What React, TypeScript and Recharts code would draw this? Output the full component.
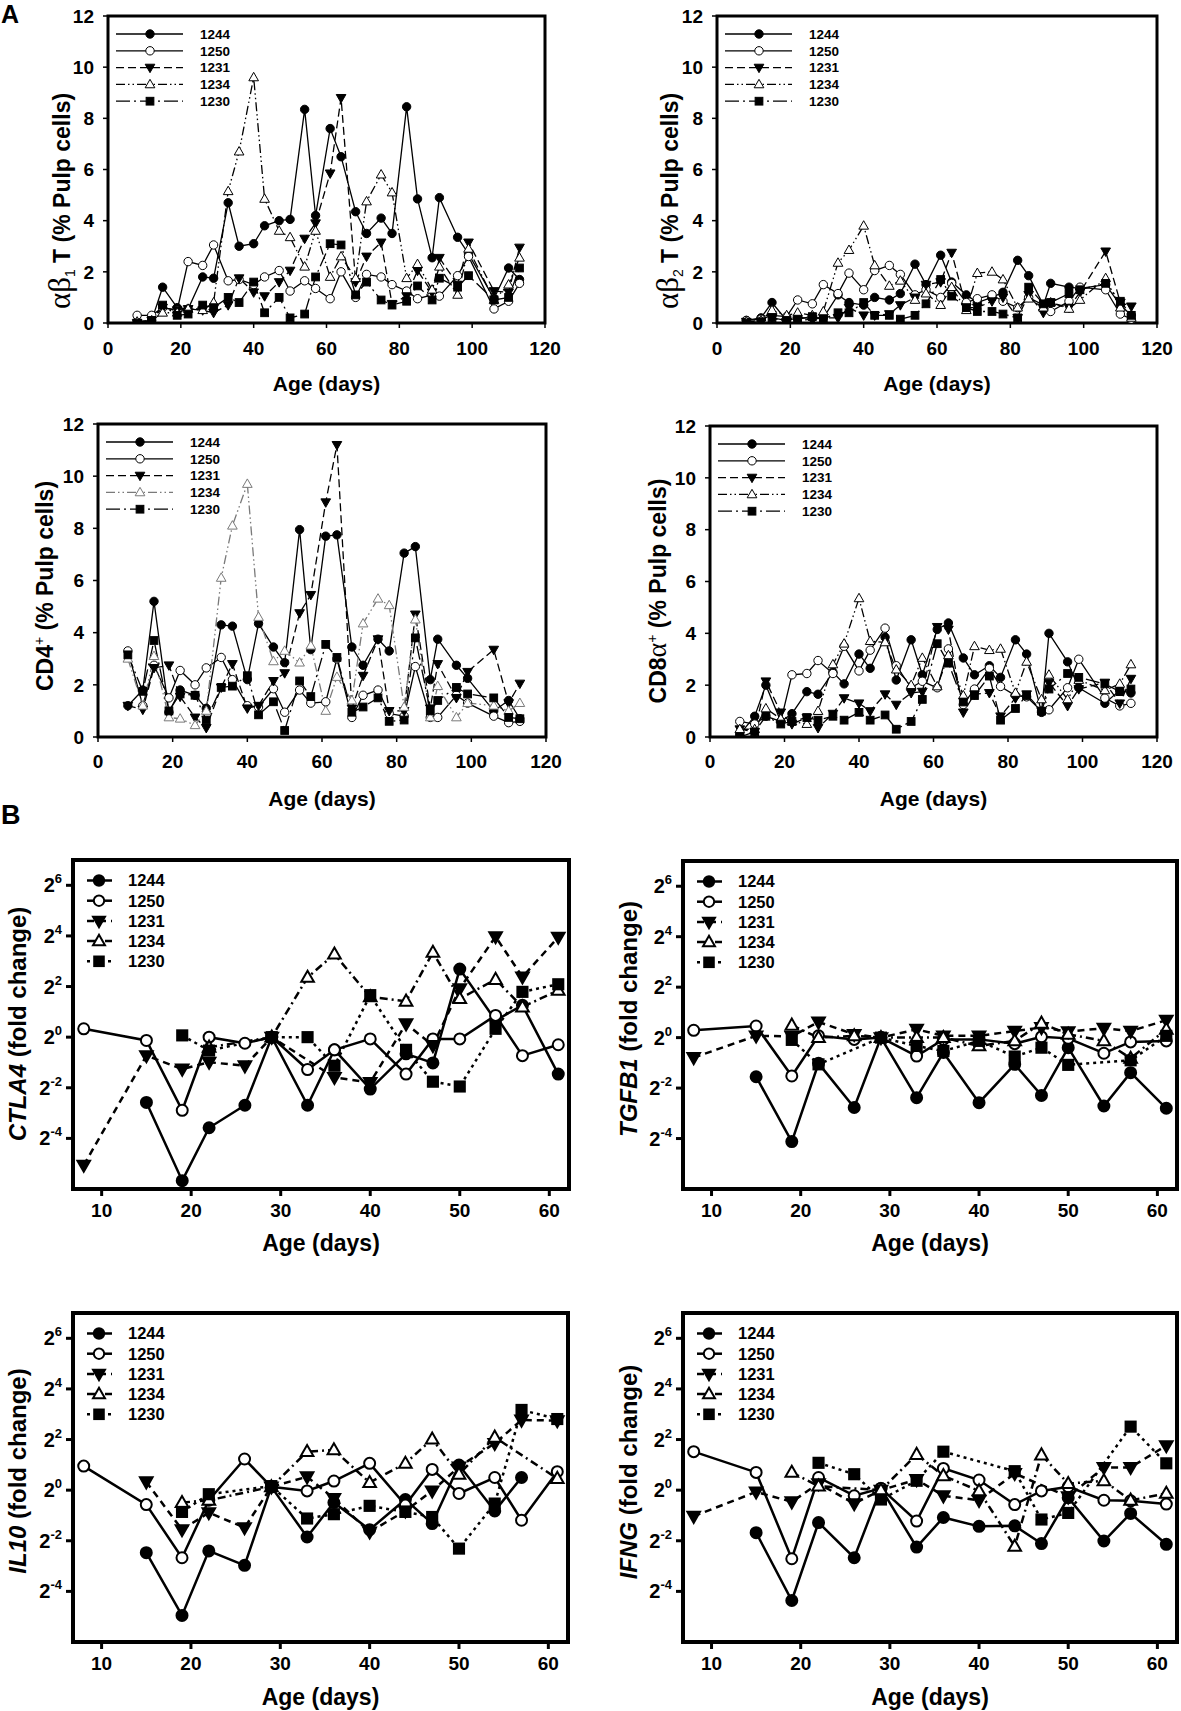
import React from 'react';
import { LineChart, Line, XAxis, YAxis, ReferenceArea, Legend } from 'recharts';

const SANS = '"Liberation Sans", Arial, Helvetica, sans-serif';
const SERIF = '"Liberation Serif", "DejaVu Serif", "Times New Roman", serif';

// ---------- categories ----------
const SERIES_NAMES = ['1244', '1250', '1231', '1234', '1230'];
const A_DAYS = [8, 12, 15, 19, 22, 26, 29, 33, 36, 40, 43, 47, 50, 54, 57, 61, 64, 68, 71, 75, 78, 82, 85, 89, 91, 96, 99, 106, 110, 113];
const B_DAYS = [8, 15, 19, 22, 26, 29, 33, 36, 40, 44, 47, 50, 54, 57, 61];

// ---------- tick labels ----------
const A_X_TICKS = [0, 20, 40, 60, 80, 100, 120];
const A_Y_TICKS = [0, 2, 4, 6, 8, 10, 12];
const B_X_TICKS = [10, 20, 30, 40, 50, 60];
const B_Y_TICKS = [-4, -2, 0, 2, 4, 6]; // exponents of 2

// ---------- A: alpha-beta1 T (% pulp cells) ----------
const ab1_1244 = [0.05, 0.1, 1.4, 0.6, 0.55, 1.8, 1.75, 4.7, 3.0, 3.1, 3.8, 4.0, 4.05, 8.35, 4.2, 7.6, 6.5, 4.35, 3.5, 4.1, 3.5, 8.45, 4.85, 2.55, 4.9, 3.35, 2.7, 0.95, 2.15, 1.7];
const ab1_1250 = [0.3, 0.3, 0.6, 0.5, 2.4, 2.25, 3.05, 1.65, 1.7, 1.5, 1.8, 2.05, 1.25, 1.65, 1.35, 0.95, 2.0, 1.0, 1.9, 1.8, 1.5, 1.25, 0.95, 1.1, 1.05, 1.85, 2.6, 0.55, 0.85, 1.55];
const ab1_1231 = [0, 0.1, 0.6, 0.5, 0.55, 0.5, 0.4, 0.7, 1.75, 1.2, 1.05, 1.6, 2.05, 3.3, 3.9, 5.85, 8.8, 1.6, 2.6, 3.15, 0.75, 1.05, 2.05, 1.2, 2.55, 1.5, 3.15, 1.25, 1.2, 2.95];
const ab1_1234 = [0.05, 0.1, 0.4, 0.4, 0.55, 0.5, 0.8, 5.15, 6.7, 9.6, 4.85, 3.6, 3.35, 2.2, 3.6, 1.8, 2.6, 1.75, 4.75, 5.8, 5.1, 1.75, 2.3, 1.3, 2.2, 1.1, 2.9, 0.9, 1.5, 2.55];
const ab1_1230 = [0, 0.1, 0.7, 0.3, 0.35, 0.7, 0.6, 1.0, 0.8, 1.6, 0.4, 1.0, 0.2, 0.35, 1.8, 3.1, 3.05, 1.1, 1.6, 0.9, 0.7, 0.85, 1.45, 0.9, 1.75, 1.4, 1.85, 0.9, 1.0, 2.15];

// ---------- A: alpha-beta2 T ----------
const ab2_1244 = [0.1, 0.2, 0.8, 0.1, 0.2, 0.2, 0.2, 1.1, 0.8, 0.7, 1.0, 0.9, 1.15, 2.3, 1.5, 2.65, 1.6, 1.1, 0.8, 1.0, 1.2, 2.45, 1.85, 0.7, 1.55, 1.4, 1.35, 1.5, 0.7, 0.3];
const ab2_1250 = [0.1, 0.15, 0.3, 0.25, 0.9, 0.75, 1.5, 1.15, 1.95, 1.3, 2.05, 2.25, 1.9, 1.1, 1.3, 1.0, 1.55, 0.8, 0.95, 1.1, 0.85, 0.6, 1.0, 0.7, 0.45, 0.85, 1.4, 1.3, 0.35, 0.15];
const ab2_1231 = [0.05, 0.05, 0.2, 0.05, 0.1, 0.15, 0.2, 0.2, 0.6, 0.3, 0.3, 0.35, 0.7, 1.0, 1.5, 1.6, 2.75, 0.6, 0.6, 0.85, 1.0, 0.2, 1.1, 0.4, 0.8, 0.6, 1.2, 2.8, 0.8, 0.65];
const ab2_1234 = [0.05, 0.1, 0.5, 0.3, 0.4, 0.3, 0.45, 2.35, 2.85, 3.8, 2.25, 1.45, 1.65, 0.9, 1.15, 0.7, 1.4, 0.5, 1.95, 2.0, 1.7, 0.6, 0.95, 0.6, 0.8, 0.55, 0.9, 1.75, 0.6, 0.2];
const ab2_1230 = [0, 0.05, 0.2, 0.1, 0.15, 0.25, 0.15, 0.4, 0.4, 0.8, 0.3, 0.3, 0.15, 0.3, 0.75, 1.7, 1.05, 0.6, 0.45, 0.45, 0.35, 0.2, 1.4, 0.75, 0.8, 1.15, 1.3, 1.55, 0.85, 0.3];

// ---------- A: CD4+ ----------
const cd4_1244 = [1.2, 1.8, 5.2, 0.95, 1.8, 1.6, 1.1, 4.3, 4.25, 2.2, 4.35, 3.45, 2.85, 7.95, 3.35, 7.7, 7.75, 3.45, 2.75, 3.75, 3.3, 7.05, 7.3, 2.2, 3.75, 2.75, 2.25, 1.0, 1.4, 0.7];
const cd4_1250 = [3.3, 1.2, 2.75, 1.5, 2.55, 2.0, 2.65, 3.05, 2.2, 1.2, 1.15, 1.85, 0.95, 1.8, 1.3, 1.35, 3.0, 0.75, 1.6, 1.8, 0.9, 0.8, 2.7, 0.75, 0.75, 1.6, 1.3, 0.8, 0.55, 0.6];
const cd4_1231 = [1.2, 1.05, 2.65, 2.75, 1.55, 0.75, 0.35, 1.9, 2.8, 1.1, 1.2, 2.15, 2.45, 4.75, 5.45, 9.0, 11.2, 1.1, 2.35, 3.75, 1.0, 1.0, 4.7, 1.1, 2.8, 1.5, 2.5, 3.35, 1.3, 2.05];
const cd4_1234 = [3.0, 1.2, 3.1, 0.75, 0.7, 0.45, 1.0, 6.1, 8.1, 9.7, 4.6, 2.9, 3.3, 2.85, 3.5, 1.0, 2.3, 1.4, 4.35, 5.3, 5.05, 1.15, 4.5, 0.75, 1.95, 0.75, 1.3, 1.2, 1.0, 1.3];
const cd4_1230 = [3.15, 1.75, 3.7, 1.0, 1.65, 1.6, 0.65, 1.9, 1.95, 2.35, 0.85, 1.35, 0.25, 2.15, 1.55, 3.55, 3.05, 0.95, 1.15, 1.5, 0.6, 0.65, 3.8, 1.0, 1.4, 1.9, 1.65, 1.5, 0.75, 0.7];

// ---------- A: CD8a+ ----------
const cd8_1244 = [0.1, 0.8, 2.0, 0.6, 0.9, 1.75, 1.65, 2.5, 2.05, 3.2, 2.65, 3.85, 2.2, 3.75, 2.4, 4.15, 4.4, 3.05, 2.4, 2.75, 2.3, 3.75, 3.2, 0.95, 4.0, 2.9, 1.9, 1.3, 1.8, 1.7];
const cd8_1250 = [0.6, 0.5, 0.8, 0.6, 2.4, 2.45, 2.95, 2.45, 3.5, 2.55, 3.35, 4.2, 2.75, 1.9, 2.15, 1.9, 3.4, 1.25, 1.85, 2.65, 1.95, 1.6, 1.55, 1.0, 1.05, 1.9, 3.0, 1.5, 1.2, 1.3];
const cd8_1231 = [0.3, 0.2, 2.15, 0.95, 0.5, 0.75, 0.35, 0.9, 1.5, 1.3, 1.0, 1.65, 1.25, 1.7, 1.75, 4.25, 4.15, 0.95, 1.65, 1.7, 0.8, 1.5, 1.65, 1.0, 2.1, 1.2, 1.85, 2.1, 1.3, 2.25];
const cd8_1234 = [0.3, 0.3, 1.1, 0.7, 0.6, 0.5, 1.0, 2.8, 3.6, 5.35, 3.7, 3.65, 2.6, 2.0, 3.05, 1.95, 3.15, 1.6, 3.5, 3.35, 3.4, 1.7, 2.9, 1.45, 2.4, 1.45, 2.2, 1.8, 2.05, 2.8];
const cd8_1230 = [0, 0.2, 0.8, 0.5, 0.6, 0.75, 0.65, 0.8, 0.65, 0.95, 0.65, 0.85, 0.3, 0.6, 1.45, 3.6, 2.85, 1.35, 1.6, 2.35, 0.65, 1.1, 1.6, 1.0, 1.85, 2.45, 2.3, 2.05, 1.75, 1.85];

// ---------- B: log2 fold change ----------
const ctla4_1244 = [null, -2.58, -5.67, -3.58, -2.69, 0, -2.69, -0.5, -2.05, -0.66, -1.02, 2.69, 0.66, 1.26, -1.46];
const ctla4_1250 = [0.33, -0.13, -2.89, 0, -0.24, 0, -1.28, -0.5, -0.07, -1.46, -0.07, -0.07, 0.86, -0.73, -0.3];
const ctla4_1231 = [-5.06, -0.73, -1.26, -0.99, -1.13, 0, null, -1.59, -1.79, 0.53, -0.33, 1.92, 3.97, 2.38, 3.95];
const ctla4_1234 = [null, null, null, -0.4, null, 0, 2.36, 3.28, 1.59, 1.42, 3.35, 1.52, 2.28, 1.19, 1.85];
const ctla4_1230 = [null, null, 0.07, -0.53, null, 0, 0, -1.13, 1.66, -0.5, -1.76, -1.95, 0.33, 1.79, 2.09];

const tgfb1_1244 = [null, -1.55, -4.12, -1.02, -2.77, 0, -2.38, -0.59, -2.58, -1.06, -2.29, -0.4, -2.71, -1.39, -2.8];
const tgfb1_1250 = [0.29, 0.46, -1.52, 0.07, -0.07, 0, -0.73, -0.07, -0.07, -0.24, 0.03, -0.03, -0.62, -0.17, -0.13];
const tgfb1_1231 = [-0.79, 0.07, 0.05, 0.62, 0.13, 0, 0.33, 0.07, 0.07, 0.26, 0.4, 0.24, 0.37, 0.26, 0.69];
const tgfb1_1234 = [null, null, 0.49, 0, 0.07, 0, 0, 0, -0.33, -0.13, 0.57, 0.13, -0.13, -0.82, 0.33];
const tgfb1_1230 = [null, null, -0.09, -1.06, null, 0, -0.33, -0.53, -0.13, -0.75, -0.4, -1.08, null, -0.9, 0.07];

const il10_1244 = [null, -2.47, -4.95, -2.4, -2.97, 0.13, -1.85, -0.49, -1.56, -0.37, -1.32, 0.99, -0.82, 0.5, null];
const il10_1250 = [0.95, -0.57, -2.67, -0.4, 1.23, 0.13, -0.03, 0.36, 1.06, -0.59, 0.82, -0.13, 0.5, -1.19, 0.73];
const il10_1231 = [null, 0.33, -1.56, -0.89, -1.48, 0.13, 0.53, -0.33, -1.65, -0.82, -0.03, 0.92, 1.85, 2.77, 2.75];
const il10_1234 = [null, null, -0.49, -0.4, null, 0.13, 1.52, 1.59, 0.3, 1.06, 2.02, 0.63, 2.09, null, 0.46];
const il10_1230 = [null, null, -0.86, -0.16, null, 0.16, -1.12, -0.95, -0.62, -0.86, -1.06, -2.31, -0.53, 3.17, 2.81];

const ifng_1244 = [null, -1.68, -4.36, -1.28, -2.67, 0.07, -2.25, -1.08, -1.43, -1.41, -2.11, -0.3, -2.01, -0.92, -2.14];
const ifng_1250 = [1.52, 0.7, -2.71, 0.5, -0.22, 0.07, -1.22, 0.86, 0.4, -0.57, -0.03, 0.13, -0.4, -0.42, -0.55];
const ifng_1231 = [-1.03, -0.07, -0.46, 0.26, -0.53, 0, 0.42, -0.22, -0.4, 0.66, null, -0.26, 0.9, 0.9, 1.76];
const ifng_1234 = [null, null, 0.7, 0.16, null, 0, 1.41, 0.57, -0.03, -2.22, 1.39, 0.26, 0.37, -0.4, -0.13];
const ifng_1230 = [null, null, null, 1.08, 0.63, -0.37, 0.37, 1.52, null, 0.75, -1.16, -0.9, null, 2.51, 1.06];

// ---------- styles (not data) ----------
type Shape = 'circle' | 'triDown' | 'triUp' | 'square';
const SHAPES: Shape[] = ['circle', 'circle', 'triDown', 'triUp', 'square'];
const FILLED = [true, false, true, false, true];
const DASH_A = [undefined, undefined, '8 4', '9 3 1.5 3 1.5 3', '14 4 2 4'];
const DASH_B = [undefined, undefined, '7 5', '8 4 2 4', '3 4'];

function Marker({ cx, cy, shape, filled, r, sw, color }: any) {
  if (cx == null || cy == null || !isFinite(cx) || !isFinite(cy)) return <g />;
  const fill = filled ? color : '#fff';
  if (shape === 'circle') return <circle cx={cx} cy={cy} r={r} fill={fill} stroke={color} strokeWidth={sw} />;
  if (shape === 'square') {
    const s = r * 0.92;
    return <rect x={cx - s} y={cy - s} width={2 * s} height={2 * s} fill={fill} stroke={color} strokeWidth={sw} />;
  }
  const h = r * 1.15;
  if (shape === 'triDown')
    return <polygon points={`${cx - h},${cy - h * 0.7} ${cx + h},${cy - h * 0.7} ${cx},${cy + h * 1.05}`} fill={fill} stroke={color} strokeWidth={sw} strokeLinejoin="miter" />;
  return <polygon points={`${cx - h},${cy + h * 0.7} ${cx + h},${cy + h * 0.7} ${cx},${cy - h * 1.05}`} fill={fill} stroke={color} strokeWidth={sw} strokeLinejoin="miter" />;
}

function PowTick(props: any) {
  const { x, y, payload } = props;
  return (
    <text x={x} y={y} dy={7} textAnchor="end" fontFamily={SANS} fontWeight="bold" fontSize={20} fill="#000">
      2<tspan dy={-9} fontSize={13}>{String(payload.value)}</tspan>
    </text>
  );
}

type PanelProps = {
  kind: 'A' | 'B';
  x0: number; y0: number;
  L: number; T: number; R: number; B: number;
  days: number[];
  series: (number | null)[][];
  yLabel: React.ReactNode;
  yLabelX: number; yLabelY: number;
  ageY: number;
  xTickMargin: number;
  colors?: string[];
};

function LegendBox({ kind, colors }: { kind: 'A' | 'B'; colors: string[] }) {
  const isA = kind === 'A';
  const lx1 = isA ? 8 : 14, lx2 = isA ? 75 : 39, mx = isA ? 42 : 26, tx = isA ? 92 : 55;
  const y0 = isA ? 18 : 20.5, dy = isA ? 16.8 : 20.2;
  return (
    <svg width={230} height={130} style={{ display: 'block', overflow: 'visible' }}>
      {SERIES_NAMES.map((n, i) => {
        const y = y0 + i * dy;
        return (
          <g key={n}>
            <line x1={lx1} x2={lx2} y1={y} y2={y} stroke={colors[i]} strokeWidth={isA ? 1.3 : 2.5}
              strokeDasharray={isA ? DASH_A[i] : DASH_B[i]} />
            <Marker cx={mx} cy={y} shape={SHAPES[i]} filled={FILLED[i]} r={isA ? 4.2 : 5.2} sw={isA ? 1 : 2} color={colors[i]} />
            <text x={tx} y={y} dy="0.36em" fontFamily={SANS} fontWeight="bold" fontSize={isA ? 13.5 : 16.5} fill="#000">{n}</text>
          </g>
        );
      })}
    </svg>
  );
}

function Panel(p: PanelProps) {
  const isA = p.kind === 'A';
  const xAxisH = isA ? 75 : 72;
  const rightM = isA ? 24 : 4;
  const width = p.R + rightM - p.x0;
  const height = p.B + xAxisH - p.y0;
  const colors = p.colors || ['#000', '#000', '#000', '#000', '#000'];
  const data = p.days.map((d, i) => {
    const row: any = { day: d };
    SERIES_NAMES.forEach((n, k) => { row['s' + n] = p.series[k][i]; });
    return row;
  });
  const xDomain: [number, number] = isA ? [0, 120] : [6.8, 62.2];
  const yDomain: [number, number] = isA ? [0, 12] : [-6, 7];
  const lx = p.yLabelX - p.x0, ly = p.yLabelY - p.y0;
  const ax = (p.L + p.R) / 2 - p.x0, ay = p.ageY - p.y0;
  return (
    <div style={{ position: 'absolute', left: p.x0, top: p.y0, width, height }}>
      <LineChart width={width} height={height} data={data}
        margin={{ top: p.T - p.y0, right: rightM, bottom: 0, left: 0 }}>
        <XAxis type="number" dataKey="day" domain={xDomain} ticks={isA ? A_X_TICKS : B_X_TICKS}
          allowDataOverflow interval={0} height={xAxisH} axisLine={false}
          tickLine={{ stroke: '#000', strokeWidth: isA ? 1.5 : 3 }} tickSize={isA ? 5 : 7} tickMargin={p.xTickMargin}
          tick={{ fill: '#000', fontSize: 19, fontWeight: 'bold', fontFamily: SANS }}
          label={() => (
            <text x={ax} y={ay} dy="0.36em" textAnchor="middle" fontFamily={SANS} fontWeight="bold"
              fontSize={isA ? 21 : 23} fill="#000">Age (days)</text>
          )} />
        <YAxis type="number" domain={yDomain} ticks={isA ? A_Y_TICKS : B_Y_TICKS} allowDataOverflow interval={0}
          width={p.L - p.x0} axisLine={false}
          tickLine={{ stroke: '#000', strokeWidth: isA ? 1.5 : 3 }} tickSize={isA ? 5 : 7} tickMargin={isA ? 9 : 4}
          tick={isA ? { fill: '#000', fontSize: 19, fontWeight: 'bold', fontFamily: SANS } : <PowTick />}
          label={() => (
            <text x={lx} y={ly} dy="0.36em" transform={`rotate(-90 ${lx} ${ly})`} textAnchor="middle"
              fontFamily={SANS} fontWeight="bold" fontSize={isA ? 23 : 24} fill="#000">{p.yLabel}</text>
          )} />
        <ReferenceArea x1={xDomain[0]} x2={xDomain[1]} y1={yDomain[0]} y2={yDomain[1]} fill="none"
          stroke="#000" strokeWidth={isA ? 3 : 4} ifOverflow="visible" />
        {SERIES_NAMES.map((n, i) => (
          <Line key={n} name={n} type="linear" dataKey={'s' + n} stroke={colors[i]}
            strokeWidth={isA ? 1.3 : 2.5} strokeDasharray={isA ? DASH_A[i] : DASH_B[i]}
            connectNulls isAnimationActive={false} activeDot={false}
            dot={(dp: any) => (
              <Marker key={'d' + n + dp.index} cx={dp.cx} cy={dp.cy} shape={SHAPES[i]} filled={FILLED[i]}
                r={isA ? 4.2 : 5.5} sw={isA ? 1 : 2} color={colors[i]} />
            )} />
        ))}
        <Legend layout="vertical" align="center" verticalAlign="middle"
          wrapperStyle={{ position: 'absolute', left: p.L - p.x0, top: p.T - p.y0, width: 230, height: 130, margin: 0, padding: 0, lineHeight: 0 }}
          content={() => <LegendBox kind={p.kind} colors={colors} />} />
      </LineChart>
    </div>
  );
}

const AB = (sub: string) => (
  <>
    <tspan fontFamily={SERIF} fontWeight="normal" fontSize={31}>αβ</tspan>
    <tspan fontWeight="normal" fontSize={14} dy={5}>{sub}</tspan>
    <tspan dy={-5}> T (% Pulp cells)</tspan>
  </>
);

const GENE = (g: string) => (
  <>
    <tspan fontStyle="italic">{g}</tspan>
    <tspan> (fold change)</tspan>
  </>
);

export default function App() {
  return (
    <div style={{ position: 'absolute', left: 0, top: 0, width: 1181, height: 1711, background: '#fff', overflow: 'hidden' }}>
      <div style={{ position: 'absolute', left: 1, top: 0, fontFamily: SANS, fontWeight: 'bold', fontSize: 25, lineHeight: '28px' }}>A</div>
      <div style={{ position: 'absolute', left: 1, top: 800, fontFamily: SANS, fontWeight: 'bold', fontSize: 27, lineHeight: '30px' }}>B</div>

      <Panel kind="A" x0={0} y0={0} L={108} T={16} R={545} B={323} days={A_DAYS}
        series={[ab1_1244, ab1_1250, ab1_1231, ab1_1234, ab1_1230]}
        yLabel={AB('1')} yLabelX={62} yLabelY={201} ageY={383} xTickMargin={14} />
      <Panel kind="A" x0={590} y0={0} L={717} T={16} R={1157} B={323} days={A_DAYS}
        series={[ab2_1244, ab2_1250, ab2_1231, ab2_1234, ab2_1230]}
        yLabel={AB('2')} yLabelX={670} yLabelY={201} ageY={383} xTickMargin={14} />
      <Panel kind="A" x0={0} y0={400} L={98} T={424} R={546} B={737} days={A_DAYS}
        series={[cd4_1244, cd4_1250, cd4_1231, cd4_1234, cd4_1230]}
        colors={['#000', '#000', '#000', '#7a7a7a', '#000']}
        yLabel={<>CD4<tspan dy={-9} fontSize={14} fontWeight="normal">+</tspan><tspan dy={9}> (% Pulp cells)</tspan></>}
        yLabelX={45} yLabelY={586} ageY={798} xTickMargin={13} />
      <Panel kind="A" x0={590} y0={400} L={710} T={426} R={1157} B={737} days={A_DAYS}
        series={[cd8_1244, cd8_1250, cd8_1231, cd8_1234, cd8_1230]}
        yLabel={<>CD8<tspan fontFamily={SERIF} fontWeight="normal" fontSize={28}>α</tspan><tspan dy={-9} fontSize={14} fontWeight="normal">+</tspan><tspan dy={9}> (% Pulp cells)</tspan></>}
        yLabelX={658} yLabelY={591} ageY={798} xTickMargin={13} />

      <Panel kind="B" x0={0} y0={820} L={73} T={860} R={569} B={1189} days={B_DAYS}
        series={[ctla4_1244, ctla4_1250, ctla4_1231, ctla4_1234, ctla4_1230]}
        yLabel={GENE('CTLA4')} yLabelX={17} yLabelY={1024} ageY={1243} xTickMargin={8} />
      <Panel kind="B" x0={590} y0={820} L={683} T={861} R={1177} B={1189} days={B_DAYS}
        series={[tgfb1_1244, tgfb1_1250, tgfb1_1231, tgfb1_1234, tgfb1_1230]}
        yLabel={GENE('TGFB1')} yLabelX={628} yLabelY={1019} ageY={1243} xTickMargin={8} />
      <Panel kind="B" x0={0} y0={1270} L={73} T={1313} R={568} B={1642} days={B_DAYS}
        series={[il10_1244, il10_1250, il10_1231, il10_1234, il10_1230]}
        yLabel={GENE('IL10')} yLabelX={17} yLabelY={1471} ageY={1697} xTickMargin={8} />
      <Panel kind="B" x0={590} y0={1270} L={683} T={1313} R={1177} B={1642} days={B_DAYS}
        series={[ifng_1244, ifng_1250, ifng_1231, ifng_1234, ifng_1230]}
        yLabel={GENE('IFNG')} yLabelX={628} yLabelY={1472} ageY={1697} xTickMargin={8} />
    </div>
  );
}
